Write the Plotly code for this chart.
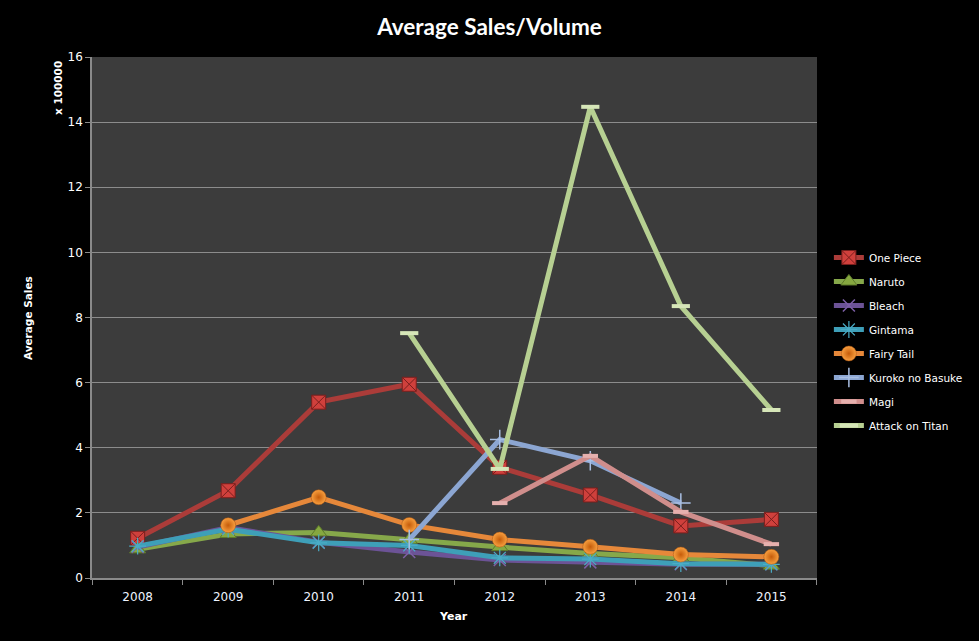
import plotly.graph_objects as go

years = ["2008", "2009", "2010", "2011", "2012", "2013", "2014", "2015"]

one_piece = [1.22, 2.68, 5.40, 5.95, 3.40, 2.55, 1.60, 1.80]
naruto = [0.88, 1.35, 1.40, 1.17, 0.95, 0.75, 0.62, 0.38]
bleach = [0.95, 1.55, 1.10, 0.80, 0.55, 0.48, 0.42, 0.42]
gintama = [0.98, 1.50, 1.08, 1.00, 0.62, 0.58, 0.44, 0.42]
fairy_tail = [None, 1.62, 2.48, 1.63, 1.18, 0.96, 0.72, 0.65]
kuroko = [None, None, None, 1.18, 4.25, 3.60, 2.30, None]
magi = [None, None, None, None, 2.30, 3.75, 2.03, 1.04]
attack_on_titan = [None, None, None, 7.52, 3.35, 14.47, 8.35, 5.16]

y_ticks = [0, 2, 4, 6, 8, 10, 12, 14, 16]

series = [
    ("One Piece", one_piece, "#ab3c39", dict(symbol="square-x", size=14, color="#d0403c", line=dict(color="#7a1f1d", width=1))),
    ("Naruto", naruto, "#86a84a", dict(symbol="triangle-up", size=14, color="#86a840", line=dict(color="#5d7a2a", width=1))),
    ("Bleach", bleach, "#6c5396", dict(symbol="x-thin", size=12, color="#7d5fa6", line=dict(color="#7d5fa6", width=1.5))),
    ("Gintama", gintama, "#3e9fb8", dict(symbol="asterisk", size=14, color="#4bacc6", line=dict(color="#4bacc6", width=1.2))),
    ("Fairy Tail", fairy_tail, "#e6883a", dict(symbol="circle", size=15, color="#f8a040", gradient=dict(type="radial", color="#c55c0a"), line=dict(color="#a9500e", width=0.5))),
    ("Kuroko no Basuke", kuroko, "#8ca6d2", dict(symbol="cross-thin", size=14, color="#a9bfe3", line=dict(color="#a9bfe3", width=1.5))),
    ("Magi", magi, "#d08e8c", dict(symbol="line-ew", size=11, color="#e6b0ae", line=dict(color="#e6b0ae", width=4))),
    ("Attack on Titan", attack_on_titan, "#b7d092", dict(symbol="line-ew", size=13, color="#d6e6b8", line=dict(color="#d6e6b8", width=4))),
]

fig = go.Figure()
for name, vals, lc, mk in series:
    fig.add_trace(go.Scatter(
        x=years, y=vals, name=name, mode="lines+markers",
        line=dict(color=lc, width=5), marker=mk, legendgroup=name,
    ))

fig.update_layout(
    width=979, height=641,
    paper_bgcolor="#000000", plot_bgcolor="#3c3c3c",
    margin=dict(l=92, r=161, t=57, b=63),
    font=dict(family="DejaVu Sans", size=11, color="#ffffff"),
    title=dict(text="<b>Average Sales/Volume</b>", x=0.5, xanchor="center", y=1 - 27 / 641, yanchor="middle",
               font=dict(family="Lato", size=22.5, color="#ffffff")),
    showlegend=True,
    legend=dict(x=1.015, xanchor="left", y=0.643, yanchor="top", bgcolor="rgba(0,0,0,0)", borderwidth=0,
                font=dict(family="DejaVu Sans", size=10.5, color="#ffffff"), tracegroupgap=5, itemwidth=30),
    xaxis=dict(type="category", showline=True, linecolor="#8a8a8a", linewidth=1.5, ticks="outside",
               tickson="boundaries", ticklen=5, tickcolor="#8a8a8a", showgrid=False, ticklabelstandoff=7,
               tickfont=dict(family="DejaVu Sans", size=12, color="#eef4ff"), mirror=False),
    yaxis=dict(range=[0, 16], tickvals=y_ticks, showline=True, linecolor="#8a8a8a", linewidth=1.5,
               ticks="outside", ticklen=5, tickcolor="#8a8a8a", gridcolor="#8c8c8c", gridwidth=1,
               zeroline=False, tickfont=dict(family="DejaVu Sans", size=12, color="#ffffff")),
    annotations=[
        dict(text="<b>Average Sales</b>", textangle=-90, xref="paper", yref="paper", x=(28 - 92) / 726, y=0.499,
             xanchor="center", yanchor="middle", showarrow=False, font=dict(family="DejaVu Sans", size=10.5, color="#ffffff")),
        dict(text="<b>x 100000</b>", textangle=-90, xref="paper", yref="paper", x=(58 - 92) / 726, y=(578 - 88) / 521,
             xanchor="center", yanchor="middle", showarrow=False, font=dict(family="DejaVu Sans", size=10.5, color="#ffffff")),
        dict(text="<b>Year</b>", xref="paper", yref="paper", x=(454 - 92) / 726, y=(578 - 616) / 521,
             xanchor="center", yanchor="middle", showarrow=False, font=dict(family="DejaVu Sans", size=11, color="#ffffff")),
    ],
)

fig.write_html(
    "out.html",
    config={"displayModeBar": False},
    post_script="document.body.style.margin='0';document.body.style.padding='0';document.body.style.background='#000';",
)
